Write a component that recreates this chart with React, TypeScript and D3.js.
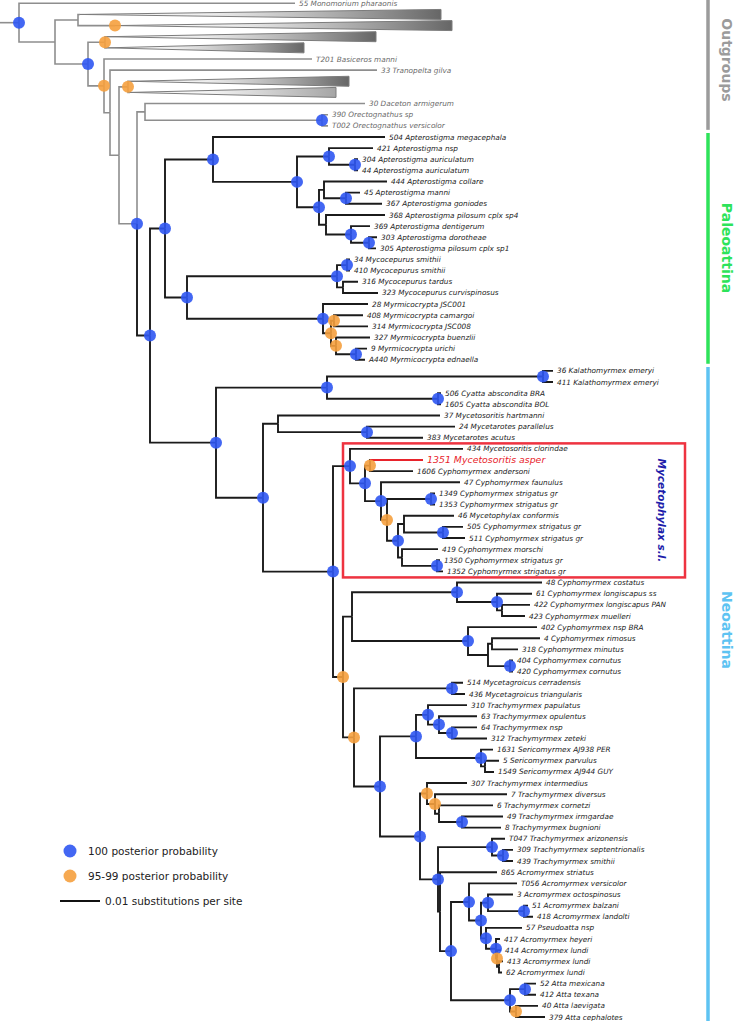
import React, { useMemo } from 'react';
import * as d3 from 'd3';

// ---------- DATA ----------
// Branch lengths in substitutions per site; internal labels: b = 100 PP, o = 95-99 PP
const cladeApterostigma = `('504 Apterostigma megacephala':0.043,
  (('421 Apterostigma nsp':0.011,('304 Apterostigma auriculatum':0.00075,'44 Apterostigma auriculatum':0.00075)b:0.0065)b:0.008,
   (('444 Apterostigma collare':0.01575,('45 Apterostigma manni':0.0035,'367 Apterostigma goniodes':0.009)b:0.0055):0.00125,
    ('368 Apterostigma pilosum cplx sp4':0.01475,('369 Apterostigma dentigerum':0.00475,('303 Apterostigma dorotheae':0.002,'305 Apterostigma pilosum cplx sp1':0.00175)b:0.0045)b:0.00625):0.00175
   )b:0.0055
  )b:0.021)`;

const cladeMycoMyrmi = `((('34 Mycocepurus smithii':0.00075,'410 Mycocepurus smithii':0.00075)b:0.0025,('316 Mycocepurus tardus':0.00375,'323 Mycocepurus curvispinosus':0.00875):0.0015)b:0.0375,
  ('28 Myrmicocrypta JSC001':0.01125,(('408 Myrmicocrypta camargoi':0.00725,'314 Myrmicocrypta JSC008':0.0085)o:0.00075,('327 Myrmicocrypta buenzlii':0.0085,('9 Myrmicocrypta urichi':0.00275,'A440 Myrmicocrypta ednaella':0.00225)b:0.005)o:0.00125)o:0.002)b:0.034)`;

const cladeMycetophylax = `('434 Mycetosoritis clorindae':0.02825,
  (('1351 Mycetosoritis asper':0.01325,'1606 Cyphomyrmex andersoni':0.01075)o:0.00125,
   ('47 Cyphomyrmex faunulus':0.01975,
    (('1349 Cyphomyrmex strigatus gr':0.001,'1353 Cyphomyrmex strigatus gr':0.001)b:0.011,
     (('46 Mycetophylax conformis':0.0125,('505 Cyphomyrmex strigatus gr':0.005,'511 Cyphomyrmex strigatus gr':0.0055)b:0.00975):0.0015,
      ('419 Cyphomyrmex morschi':0.009,('1350 Cyphomyrmex strigatus gr':0.00075,'1352 Cyphomyrmex strigatus gr':0.0015)b:0.00875):0.001
     )b:0.00275
    )o:0.0015
   )b:0.004
  )b:0.00375)`;

const cladeCyphomyrmex = `(('48 Cyphomyrmex costatus':0.02125,('61 Cyphomyrmex longiscapus ss':0.00875,('422 Cyphomyrmex longiscapus PAN':0.007,'423 Cyphomyrmex muelleri':0.00575):0.00125)b:0.01)b:0.02625,
  ('402 Cyphomyrmex nsp BRA':0.01725,(('4 Cyphomyrmex rimosus':0.012,'318 Cyphomyrmex minutus':0.0065):0.001,('404 Cyphomyrmex cornutus':0.00075,'420 Cyphomyrmex cornutus':0.00075)b:0.0055):0.005)b:0.029)`;

const cladeTrachySerico = `(('310 Trachymyrmex papulatus':0.00975,('63 Trachymyrmex opulentus':0.0095,('64 Trachymyrmex nsp':0.00625,'312 Trachymyrmex zeteki':0.00875)b:0.00325)b:0.00275)b:0.003,
  ('1631 Sericomyrmex AJ938 PER':0.003,('5 Sericomyrmex parvulus':0.0035,'1549 Sericomyrmex AJ944 GUY':0.00225):0.001)b:0.01625)`;

const cladeAcromyrmex = `('T056 Acromyrmex versicolor':0.012,
  (('3 Acromyrmex octospinosus':0.00625,('51 Acromyrmex balzani':0.001,'418 Acromyrmex landolti':0.00225)b:0.009)b:0.00175,
   ('57 Pseudoatta nsp':0.009,('417 Acromyrmex heyeri':0.001,('414 Acromyrmex lundi':0.001,('413 Acromyrmex lundi':0.001,'62 Acromyrmex lundi':0.00075):0.0005)o:0.00025)b:0.0025)b:0.00125
  )b:0.003)`;

const cladeAtta = `(('52 Atta mexicana':0.00275,'412 Atta texana':0.00275)b:0.00375,('40 Atta laevigata':0.0055,'379 Atta cephalotes':0.00725)o:0.0015)`;

const cladeHigher = `(('307 Trachymyrmex intermedius':0.01,('7 Trachymyrmex diversus':0.018,('6 Trachymyrmex cornetzi':0.0135,('49 Trachymyrmex irmgardae':0.01025,'8 Trachymyrmex bugnioni':0.00975)b:0.00575):0.001)o:0.002)o:0.00175,
  (('T047 Trachymyrmex arizonensis':0.00325,('309 Trachymyrmex septentrionalis':0.0025,'439 Trachymyrmex smithii':0.0025)b:0.00275)b:0.0135,
   ('865 Acromyrmex striatus':0.01425,(${cladeAcromyrmex}b:0.0045,${cladeAtta}b:0.01475)b:0.00275):0.0005
  )b:0.0045)`;

const cladeNeoattina = `((('36 Kalathomyrmex emeryi':0.0025,'411 Kalathomyrmex emeryi':0.0025)b:0.054,('506 Cyatta abscondita BRA':0.00075,'1605 Cyatta abscondita BOL':0.00075)b:0.02775)b:0.02775,
  (('37 Mycetosoritis hartmanni':0.0405,('24 Mycetarotes parallelus':0.022,'383 Mycetarotes acutus':0.014)b:0.02225):0.00375,
   (${cladeMycetophylax}b:0.00425,
    (${cladeCyphomyrmex}:0.00225,
     (('514 Mycetagroicus cerradensis':0.00275,'436 Mycetagroicus triangularis':0.00325)b:0.0245,
      (${cladeTrachySerico}b:0.009,${cladeHigher}b:0.01)b:0.0065
     )o:0.00275
    )o:0.0025
   )b:0.0175
  )b:0.01175)`;

const treeNewick = `('55 Monomorium pharaonis':0.069,
 (('@1':0.0005,'@2':0.00925):0.00575,
  (('@3':0.0005,'@4':0.0005)o:0.00425,
   ('T201 Basiceros manni':0.052,
    ('33 Tranopelta gilva':0.06675,
     (('@7':0.0005,'@8':0.0005)o:0.00225,
      (('30 Daceton armigerum':0.055,('390 Orectognathus sp':0.0015,'T002 Orectognathus versicolor':0.0015)b:0.04425):0.002,
       ((${cladeApterostigma}b:0.012,${cladeMycoMyrmi}b:0.0055)b:0.00375,${cladeNeoattina}b:0.0165)b:0.00325
      )b:0.0045
     ):0.00225
    ):0.0015
   )o:0.004
  )b:0.00825
 ):0.009
)b:0.00475;`;

// collapsed outgroup clades (triangles)
const collapsedIds = ['@1', '@2', '@3', '@4', '@7', '@8'];
const collapsedSpan = [0.09025, 0.08425, 0.06725, 0.04925, 0.05475, 0.0515];
const collapsedSupport = ['', 'o', '', '', '', ''];
const collapsedLight = [false, false, false, false, false, true];

const firstIngroupTaxon = '504 Apterostigma megacephala';
const highlightTaxon = '1351 Mycetosoritis asper';
const boxFirstTaxon = '434 Mycetosoritis clorindae';
const boxLastTaxon = '1352 Cyphomyrmex strigatus gr';
const boxLabel = 'Mycetophylax s.l.';

const groupNames = ['Outgroups', 'Paleoattina', 'Neoattina'];
const groupFirstTaxon = ['55 Monomorium pharaonis', '504 Apterostigma megacephala', '36 Kalathomyrmex emeryi'];
const groupLastTaxon = ['T002 Orectognathus versicolor', 'A440 Myrmicocrypta ednaella', '379 Atta cephalotes'];
const groupColors = ['#9b9b9b', '#2ee35a', '#5ec3f2'];
const groupLabelCenter = [60, 248, 630];

const legendLabels = ['100 posterior probability', '95-99 posterior probability'];
const legendSupport = ['b', 'o'];
const scaleBarValue = 0.01;
const scaleBarLabel = '0.01 substitutions per site';

// ---------- STYLE ----------
const W = 737;
const H = 1021;
const BLUE = '#2f56f2';
const ORANGE = '#f5a03e';
const FONT = "'DejaVu Sans', Verdana, sans-serif";

function parseNewick(s: string) {
  let i = 0;
  const skip = () => { while (i < s.length && /\s/.test(s[i])) i++; };
  const parseNode = (): any => {
    skip();
    const node: any = { name: '', support: '', length: 0, children: [] };
    if (s[i] === '(') {
      i++;
      while (true) {
        node.children.push(parseNode());
        skip();
        if (s[i] === ',') { i++; } else break;
      }
      i++; // ')'
      skip();
      let lab = '';
      while (i < s.length && /[A-Za-z]/.test(s[i])) lab += s[i++];
      node.support = lab;
    } else if (s[i] === "'") {
      i++;
      let nm = '';
      while (s[i] !== "'") nm += s[i++];
      i++;
      node.name = nm;
    }
    skip();
    if (s[i] === ':') {
      i++;
      let num = '';
      while (i < s.length && /[0-9.eE-]/.test(s[i])) num += s[i++];
      node.length = parseFloat(num);
    }
    return node;
  };
  return parseNode();
}

function buildLayout() {
  const root: any = d3.hierarchy(parseNewick(treeNewick), (d: any) => (d.children && d.children.length ? d.children : null));
  root.eachBefore((n: any) => { n.cum = (n.parent ? n.parent.cum : 0) + (n.data.length || 0); });
  const leaves = root.leaves();
  leaves.forEach((l: any, i: number) => { l.row = i; });
  const xScale = d3.scaleLinear().domain([0, 0.18425]).range([0, W]);
  const yScale = d3.scaleLinear().domain([0, leaves.length - 1]).range([3.3, 1017]);
  const firstIn = leaves.find((l: any) => l.data.name === firstIngroupTaxon).row;
  root.eachAfter((n: any) => {
    n.px = xScale(n.cum);
    if (n.children) {
      n.py = (n.children[0].py + n.children[n.children.length - 1].py) / 2;
      n.isOut = n.children.some((c: any) => c.isOut);
    } else {
      n.py = yScale(n.row);
      n.isOut = n.row < firstIn;
    }
  });
  const byName: any = {};
  leaves.forEach((l: any) => { byName[l.data.name] = l; });
  return { root, leaves, xScale, yScale, byName };
}

export default function App() {
  const L = useMemo(() => buildLayout(), []);
  const { root, leaves, xScale, yScale, byName } = L;
  const nodes = root.descendants();

  const edges: any[] = [];
  const circles: any[] = [];
  const triangles: any[] = [];
  const labels: any[] = [];

  nodes.forEach((n: any, idx: number) => {
    const col = n.isOut ? '#8e8e8e' : '#1b1b1b';
    const sw = n.isOut ? 1.6 : 1.9;
    if (n.parent) {
      const p = n.parent;
      if (n.data.name === highlightTaxon) {
        edges.push(<path key={'v' + idx} d={`M${p.px},${p.py}V${n.py}`} stroke={col} strokeWidth={sw} fill="none" strokeLinecap="square" />);
        edges.push(<path key={'h' + idx} d={`M${p.px},${n.py}H${n.px}`} stroke="#e8232b" strokeWidth={sw} fill="none" />);
      } else {
        edges.push(<path key={'e' + idx} d={`M${p.px},${p.py}V${n.py}H${n.px}`} stroke={col} strokeWidth={sw} fill="none" strokeLinejoin="miter" />);
      }
    } else {
      edges.push(<path key="stem" d={`M0,${n.py}H${n.px}`} stroke="#8e8e8e" strokeWidth={1.6} fill="none" />);
    }
    if (n.children && n.data.support) {
      circles.push({ x: n.px, y: n.py, s: n.data.support, k: 'c' + idx });
    }
    if (!n.children) {
      const ci = collapsedIds.indexOf(n.data.name);
      if (ci >= 0) {
        const x1 = xScale(n.cum + collapsedSpan[ci]);
        triangles.push(
          <g key={'t' + idx}>
            <polygon points={`${n.px},${n.py} ${x1},${n.py - 5} ${x1},${n.py + 5}`}
              fill={collapsedLight[ci] ? 'url(#triGradLight)' : 'url(#triGrad)'} stroke="#7c7c7c" strokeWidth={1} strokeLinejoin="miter" />
          </g>
        );
        if (collapsedSupport[ci]) circles.push({ x: n.px, y: n.py, s: collapsedSupport[ci], k: 'cc' + idx });
      } else {
        const hl = n.data.name === highlightTaxon;
        labels.push(
          <text key={'l' + idx} x={n.px + 4} y={n.py} dy="0.35em"
            fontFamily={FONT} fontStyle="italic" fontSize={hl ? 9.4 : 7.3}
            fill={hl ? '#e8232b' : n.isOut ? '#6a6a6a' : '#1b1b1b'}>{n.data.name}</text>
        );
      }
    }
  });

  // box around Mycetophylax s.l.
  const bFirst = byName[boxFirstTaxon];
  const bLast = byName[boxLastTaxon];
  const boxLeft = bFirst.parent.px - 7;
  const boxTop = bFirst.py - 5.5;
  const boxBottom = bLast.py + 6;
  const boxRight = 685;

  // side groups
  const groups = groupNames.map((g, i) => {
    const a = byName[groupFirstTaxon[i]].py;
    const b = byName[groupLastTaxon[i]].py;
    const y0 = Math.max(0, a - 4);
    const y1 = i === groupNames.length - 1 ? H : b + 4;
    return { g, y0, y1, color: groupColors[i], cy: groupLabelCenter[i] };
  });

  const barLen = xScale(scaleBarValue) - xScale(0);

  return (
    <svg width={W} height={H} viewBox={`0 0 ${W} ${H}`} style={{ position: 'absolute', left: 0, top: 0, background: '#fff' }}>
      <defs>
        <linearGradient id="triGrad" x1="0" x2="1" y1="0" y2="0">
          <stop offset="0" stopColor="#8a8a8a" stopOpacity={0} />
          <stop offset="0.35" stopColor="#8a8a8a" stopOpacity={0.15} />
          <stop offset="1" stopColor="#666" stopOpacity={1} />
        </linearGradient>
        <linearGradient id="triGradLight" x1="0" x2="1" y1="0" y2="0">
          <stop offset="0" stopColor="#aaa" stopOpacity={0} />
          <stop offset="0.4" stopColor="#aaa" stopOpacity={0.15} />
          <stop offset="1" stopColor="#a5a5a5" stopOpacity={1} />
        </linearGradient>
      </defs>
      <rect width={W} height={H} fill="#fff" />
      <rect x={boxLeft} y={boxTop} width={boxRight - boxLeft} height={boxBottom - boxTop} fill="none" stroke="#ee3340" strokeWidth={2.5} />
      <text transform={`translate(662,${(boxTop + boxBottom) / 2}) rotate(90)`} textAnchor="middle" dy="0.35em"
        fontFamily={FONT} fontWeight="bold" fontStyle="italic" fontSize={10.5} fill="#1d1daa">{boxLabel}</text>
      {triangles}
      {edges}
      {circles.map((c: any) => (
        <circle key={c.k} cx={c.x} cy={c.y} r={6} fill={c.s === 'o' ? ORANGE : BLUE} fillOpacity={0.9} />
      ))}
      {labels}
      {groups.map((g: any) => (
        <g key={g.g}>
          <line x1={708} x2={708} y1={g.y0} y2={g.y1} stroke={g.color} strokeWidth={3.5} />
          <text transform={`translate(727,${g.cy}) rotate(90)`} textAnchor="middle" dy="0.35em"
            fontFamily={FONT} fontWeight="bold" fontSize={14} fill={g.color}>{g.g}</text>
        </g>
      ))}
      {legendLabels.map((t, i) => (
        <g key={t}>
          <circle cx={70} cy={851 + i * 25} r={6.5} fill={legendSupport[i] === 'o' ? ORANGE : BLUE} fillOpacity={0.9} />
          <text x={88} y={851 + i * 25} dy="0.35em" fontFamily={FONT} fontSize={10.5} fill="#222">{t}</text>
        </g>
      ))}
      <line x1={60} x2={60 + barLen} y1={901} y2={901} stroke="#111" strokeWidth={2} />
      <text x={105} y={901} dy="0.35em" fontFamily={FONT} fontSize={10.5} fill="#222">{scaleBarLabel}</text>
    </svg>
  );
}
